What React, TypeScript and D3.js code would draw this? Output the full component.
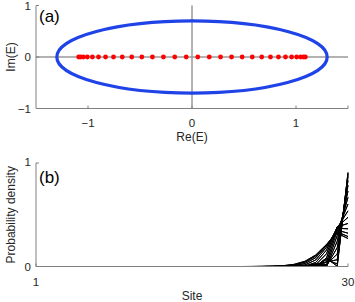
import React from "react";
import * as d3 from "d3";

// Panel (a): eigenvalues (real parts, imaginary parts are 0)
const eigRe = [
  -1.0898, -1.073, -1.0452, -1.0066, -0.9578, -0.8991, -0.8312, -0.7547, -0.6705, -0.5794,
  -0.4824, -0.3804, -0.2746, -0.1659, -0.0555, 0.0555, 0.1659, 0.2746, 0.3804, 0.4824,
  0.5794, 0.6705, 0.7547, 0.8312, 0.8991, 0.9578, 1.0066, 1.0452, 1.073, 1.0898,
];
const eigIm = eigRe.map(() => 0);
const ellipseRe = 1.3;
const ellipseIm = 0.7;
const aXTicks = [-1, 0, 1];
const aYTicks = [-1, 0, 1];

// Panel (b): probability densities; sites 1..20 are 0, values below for sites 21..30
const nSites = 30;
const tailStart = 21;
const dens1 = [0.0004, 0.0011, 0.003, 0.0082, 0.021, 0.0504, 0.111, 0.2131, 0.3213, 0.2704];
const dens2 = [0.0001, 0.0004, 0.0016, 0.0051, 0.0153, 0.0418, 0.1015, 0.2102, 0.3339, 0.29];
const dens3 = [0.0, 0.0, 0.0003, 0.0019, 0.0082, 0.029, 0.0852, 0.2021, 0.3515, 0.3217];
const dens4 = [0.0, 0.0, 0.0, 0.0002, 0.0024, 0.0153, 0.0631, 0.1854, 0.3692, 0.3643];
const dens5 = [0.0, 0.0001, 0.0002, 0.0002, 0.0, 0.0047, 0.0384, 0.1586, 0.3817, 0.416];
const dens6 = [0.0, 0.0001, 0.0003, 0.0009, 0.0008, 0.0001, 0.0167, 0.1227, 0.3838, 0.4747];
const dens7 = [0.0, 0.0, 0.0001, 0.0009, 0.0025, 0.0016, 0.0031, 0.0822, 0.3717, 0.538];
const dens8 = [0.0, 0.0001, 0.0, 0.0003, 0.0027, 0.0058, 0.0003, 0.0439, 0.3436, 0.6033];
const dens9 = [0.0, 0.0001, 0.0002, 0.0, 0.0014, 0.0085, 0.0068, 0.015, 0.3003, 0.6679];
const dens10 = [0.0, 0.0, 0.0002, 0.0004, 0.0001, 0.0072, 0.0171, 0.0009, 0.2448, 0.7292];
const dens11 = [0.0, 0.0, 0.0001, 0.0007, 0.0004, 0.0033, 0.0246, 0.0036, 0.1826, 0.7847];
const dens12 = [0.0, 0.0001, 0.0, 0.0004, 0.0017, 0.0003, 0.025, 0.0201, 0.1204, 0.8321];
const dens13 = [0.0, 0.0, 0.0002, 0.0, 0.0022, 0.0007, 0.018, 0.0439, 0.0655, 0.8694];
const dens14 = [0.0, 0.0, 0.0002, 0.0002, 0.0014, 0.0039, 0.0081, 0.0665, 0.0246, 0.8952];
const dens15 = [0.0, 0.0, 0.0, 0.0006, 0.0002, 0.0069, 0.001, 0.0801, 0.0028, 0.9084];
// states n and 31-n share the same density
const states = [
  dens1, dens2, dens3, dens4, dens5, dens6, dens7, dens8, dens9, dens10, dens11, dens12, dens13, dens14, dens15,
  dens15, dens14, dens13, dens12, dens11, dens10, dens9, dens8, dens7, dens6, dens5, dens4, dens3, dens2, dens1,
];
const bXTicks = [1, 30];
const bYTicks = [0, 1];

const FONT = "'Liberation Sans', Arial, sans-serif";
const AX = "#808080";
const TXT = "#262626";

export default function App() {
  const left = 36;
  const right = 348;
  // panel a
  const ax = d3.scaleLinear().domain([-1.5, 1.5]).range([left, right]);
  const ay = d3.scaleLinear().domain([-1, 1]).range([108.5, 5.5]);
  // panel b
  const bx = d3.scaleLinear().domain([1, nSites]).range([left, right]);
  const by = d3.scaleLinear().domain([0, 1]).range([266.5, 163]);

  const line = d3
    .line<[number, number]>()
    .x((d) => bx(d[0]))
    .y((d) => by(d[1]));

  const fullSeries = (tail: number[]): [number, number][] => {
    const pts: [number, number][] = [];
    for (let s = 1; s < tailStart; s++) pts.push([s, 0]);
    tail.forEach((v, i) => pts.push([tailStart + i, v]));
    return pts;
  };

  return (
    <svg
      width={355}
      height={302}
      style={{ position: "fixed", left: 0, top: 0, background: "#fff" }}
      fontFamily={FONT}
    >
      {/* ===== Panel (a) ===== */}
      <line x1={ax(0)} x2={ax(0)} y1={ay(1)} y2={ay(-1)} stroke="#666" strokeWidth={1} />
      <line x1={ax(-1.5)} x2={ax(1.5)} y1={ay(0)} y2={ay(0)} stroke="#999" strokeWidth={1.5} />
      <ellipse
        cx={ax(0)}
        cy={ay(0)}
        rx={ax(ellipseRe) - ax(0)}
        ry={ay(0) - ay(ellipseIm)}
        fill="none"
        stroke="#1f43e6"
        strokeWidth={3.2}
      />
      {eigRe.map((re, i) => (
        <circle key={i} cx={ax(re)} cy={ay(eigIm[i])} r={2.4} fill="#ff0000" />
      ))}
      {/* axes */}
      <line x1={left} x2={left} y1={ay(1)} y2={ay(-1)} stroke={AX} />
      <line x1={left} x2={right} y1={ay(-1)} y2={ay(-1)} stroke={AX} />
      {aYTicks.map((t) => (
        <g key={"ay" + t}>
          <line x1={left} x2={left + 3} y1={ay(t)} y2={ay(t)} stroke={AX} />
          <text x={left - 5} y={ay(t)} dy="0.35em" textAnchor="end" fontSize={11.5} fill={TXT}>
            {t < 0 ? "\u2212" + Math.abs(t) : t}
          </text>
        </g>
      ))}
      {aXTicks.map((t) => (
        <g key={"ax" + t}>
          <line x1={ax(t)} x2={ax(t)} y1={ay(-1)} y2={ay(-1) - 3} stroke={AX} />
          <text x={ax(t)} y={123} dy="0.35em" textAnchor="middle" fontSize={11.5} fill={TXT}>
            {t < 0 ? "\u2212" + Math.abs(t) : t}
          </text>
        </g>
      ))}
      <line x1={right} x2={right} y1={ay(-1)} y2={ay(-1) - 3} stroke={AX} />
      <text x={(left + right) / 2} y={137} dy="0.35em" textAnchor="middle" fontSize={12} fill={TXT}>
        Re(E)
      </text>
      <text
        transform={`translate(11,${ay(0)}) rotate(-90)`}
        textAnchor="middle"
        dy="0.35em"
        fontSize={12}
        fill={TXT}
      >
        Im(E)
      </text>
      <text x={39} y={16} dy="0.35em" fontSize={17} fill="#000">
        (a)
      </text>

      {/* ===== Panel (b) ===== */}
      {states.map((s, i) => (
        <path key={i} d={line(fullSeries(s)) || ""} fill="none" stroke="#000" strokeWidth={1} />
      ))}
      <line x1={left} x2={left} y1={by(1)} y2={by(0)} stroke={AX} />
      <line x1={left} x2={right} y1={by(0)} y2={by(0)} stroke={AX} />
      {bYTicks.map((t) => (
        <g key={"by" + t}>
          <line x1={left} x2={left + 3} y1={by(t)} y2={by(t)} stroke={AX} />
          <text x={left - 5} y={by(t) - (t === 1 ? 1.5 : 0)} dy="0.35em" textAnchor="end" fontSize={11.5} fill={TXT}>
            {t}
          </text>
        </g>
      ))}
      {bXTicks.map((t) => (
        <g key={"bx" + t}>
          <line x1={bx(t)} x2={bx(t)} y1={by(0)} y2={by(0) - 3} stroke={AX} />
          <text x={bx(t)} y={281.5} dy="0.35em" textAnchor="middle" fontSize={11.5} fill={TXT}>
            {t}
          </text>
        </g>
      ))}
      <text x={(left + right) / 2} y={296} dy="0.35em" textAnchor="middle" fontSize={12} fill={TXT}>
        Site
      </text>
      <text
        transform={`translate(11,${(by(0) + by(1)) / 2}) rotate(-90)`}
        textAnchor="middle"
        dy="0.35em"
        fontSize={12}
        fill={TXT}
      >
        Probability density
      </text>
      <text x={39} y={177} dy="0.35em" fontSize={17} fill="#000">
        (b)
      </text>
    </svg>
  );
}
